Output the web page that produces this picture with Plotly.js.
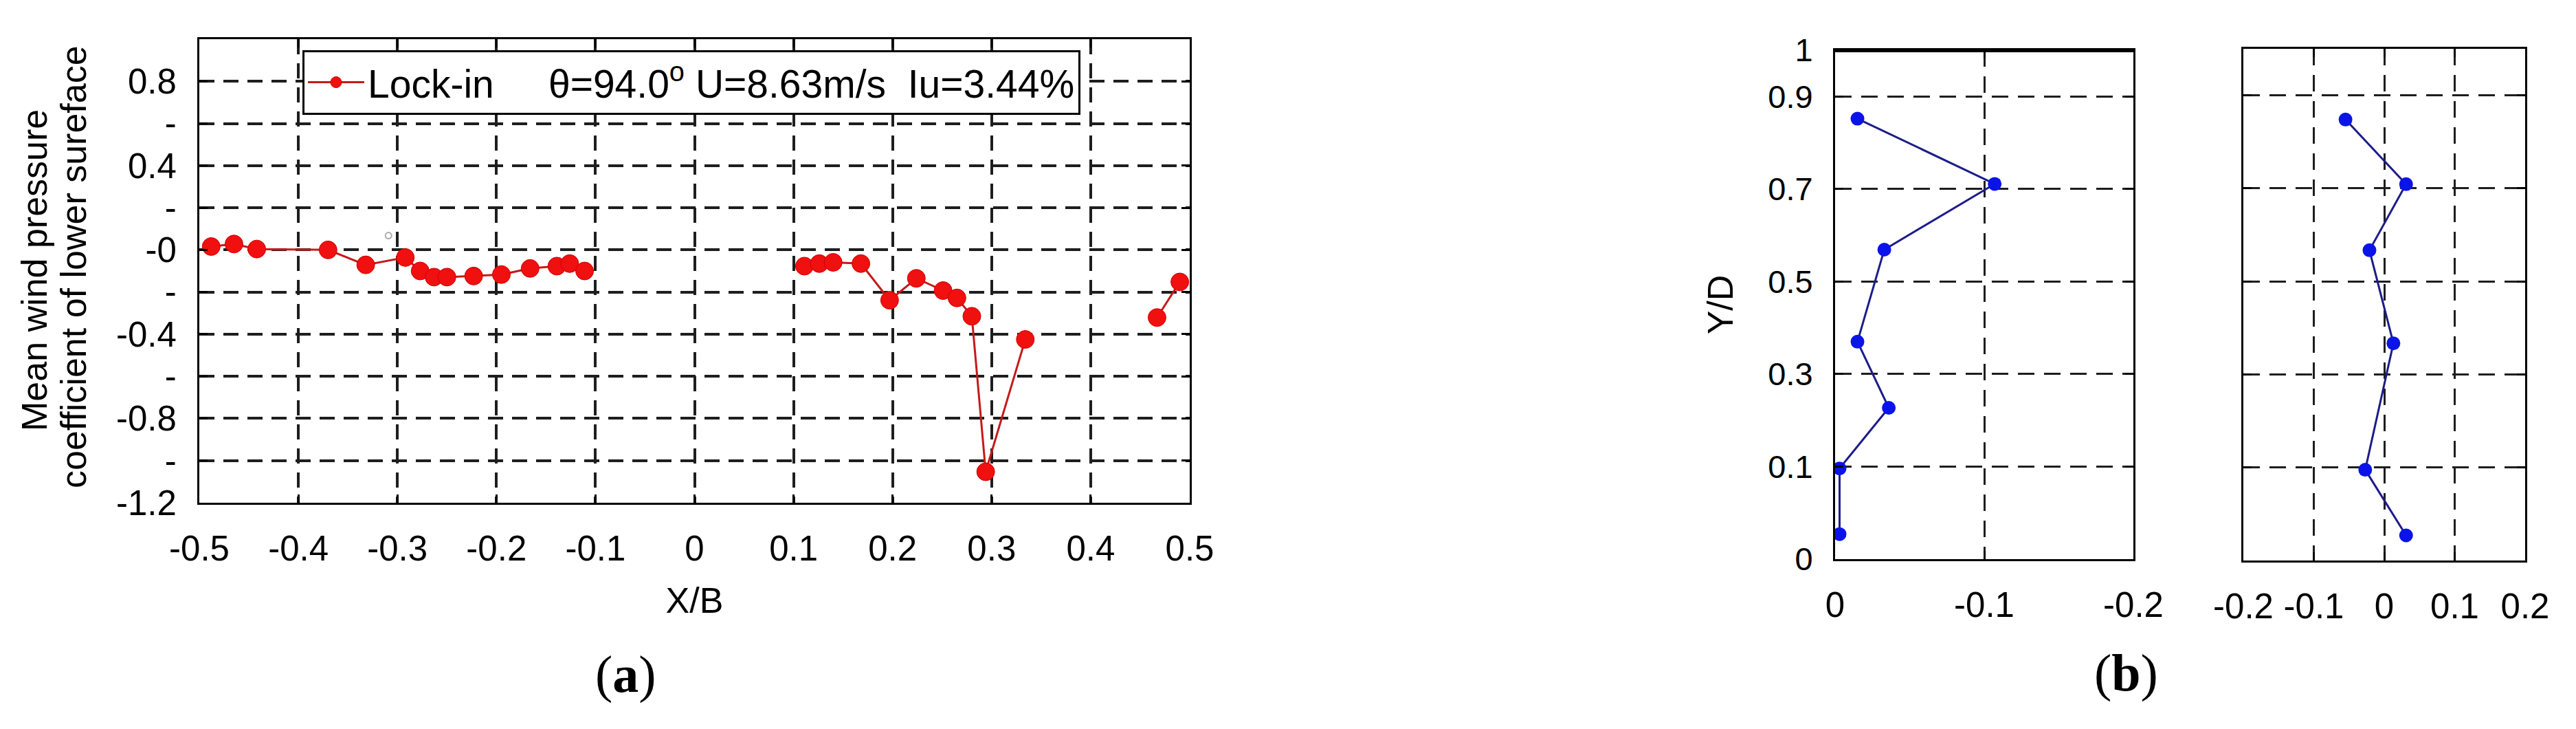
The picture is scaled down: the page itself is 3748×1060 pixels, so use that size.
<!DOCTYPE html>
<html>
<head>
<meta charset="utf-8">
<script src="https://cdn.plot.ly/plotly-3.0.1.min.js"></script>
<style>
  body { margin: 0; background: #fff; }
  #chart { width: 3748px; height: 1060px; }
</style>
</head>
<body>
<div id="chart"></div>
<script>
// (a) mean wind pressure coefficient of the lower surface, null = break in the line
const xB = [-0.488, -0.465, -0.442, -0.370, -0.332, -0.292, -0.277, -0.263, -0.250, -0.223, -0.195, -0.166, -0.139, -0.126, -0.111, null,
            0.111, 0.126, 0.140, 0.168, 0.197, 0.224, 0.251, 0.265, 0.280, 0.294, 0.334, null,
            0.467, 0.490];
const cpLower = [0.016, 0.028, 0.004, 0.000, -0.071, -0.036, -0.100, -0.129, -0.129, -0.124, -0.117, -0.088, -0.077, -0.065, -0.100, null,
                 -0.077, -0.065, -0.059, -0.065, -0.239, -0.135, -0.193, -0.228, -0.315, -1.053, -0.425, null,
                 -0.321, -0.152];
// stray grey mark in the original figure
const strayX = [-0.309];
const strayY = [0.068];

// (b) profiles along Y/D
const yDLeft = [0.852, 0.711, 0.569, 0.370, 0.227, 0.096, -0.046];
const cpLeft = [-0.015, -0.107, -0.033, -0.015, -0.036, -0.003, -0.003];
const yDRight = [0.848, 0.709, 0.567, 0.367, 0.095, -0.046];
const cpRight = [-0.055, 0.031, -0.021, 0.013, -0.027, 0.031];

// tick labels
const aXVals = [-0.5, -0.4, -0.3, -0.2, -0.1, 0, 0.1, 0.2, 0.3, 0.4, 0.5];
const aXText = ['-0.5', '-0.4', '-0.3', '-0.2', '-0.1', '0', '0.1', '0.2', '0.3', '0.4', '0.5'];
const aYVals = [-1.2, -1.0, -0.8, -0.6, -0.4, -0.2, 0, 0.2, 0.4, 0.6, 0.8];
const aYText = ['-1.2', '-', '-0.8', '-', '-0.4', '-', '-0', '-', '0.4', '-', '0.8'];
const bYVals = [-0.1, 0.1, 0.3, 0.5, 0.7, 0.9, 1.0];
const bYText = ['0', '0.1', '0.3', '0.5', '0.7', '0.9', '1'];
const bLeftXVals = [0, -0.1, -0.2];
const bLeftXText = ['0', '-0.1', '-0.2'];
const bRightXVals = [-0.2, -0.1, 0, 0.1, 0.2];
const bRightXText = ['-0.2', '-0.1', '0', '0.1', '0.2'];

const W = 3748, H = 1060;
const px = v => v / W;
const py = v => 1 - v / H;

const sans = 'Liberation Sans, Arial, sans-serif';
const nb = '\u00a0';

const traces = [
  {
    x: xB, y: cpLower, type: 'scatter', mode: 'lines+markers',
    name: 'Lock-in' + nb.repeat(5) + 'θ=94.0<sup>o</sup> U=8.63m/s' + nb + nb + 'Iu=3.44%',
    line: {color: '#c41a1a', width: 3},
    marker: {color: '#f01010', size: 26, line: {color: '#d00000', width: 1}},
    connectgaps: false, xaxis: 'x', yaxis: 'y'
  },
  {
    x: strayX, y: strayY, type: 'scatter', mode: 'markers', showlegend: false,
    marker: {symbol: 'circle-open', size: 9, color: '#aaaaaa', line: {width: 2}},
    xaxis: 'x', yaxis: 'y'
  },
  {
    x: cpLeft, y: yDLeft, type: 'scatter', mode: 'lines+markers', showlegend: false,
    line: {color: '#1c1c8a', width: 3},
    marker: {color: '#0a14e8', size: 20},
    xaxis: 'x2', yaxis: 'y2'
  },
  {
    x: cpRight, y: yDRight, type: 'scatter', mode: 'lines+markers', showlegend: false,
    line: {color: '#1c1c8a', width: 3},
    marker: {color: '#0a14e8', size: 20},
    xaxis: 'x3', yaxis: 'y3'
  }
];

function axis(extra) {
  return Object.assign({
    showline: true, linecolor: '#000', linewidth: 3, mirror: 'ticks',
    ticks: 'inside', ticklen: 12, tickwidth: 3, tickcolor: '#000',
    showgrid: true, gridcolor: '#1e1e1e', gridwidth: 4, griddash: '22px,13px',
    zeroline: false, tickmode: 'array',
    tickfont: {family: sans, size: 51, color: '#000'},
    ticklabelstandoff: 20
  }, extra);
}

const layout = {
  width: W, height: H,
  margin: {l: 0, r: 0, t: 0, b: 0},
  paper_bgcolor: '#fff', plot_bgcolor: '#fff',
  font: {family: sans, color: '#000'},
  showlegend: true,
  legend: {
    x: px(440), y: py(73), xanchor: 'left', yanchor: 'top',
    bgcolor: '#fff', bordercolor: '#000', borderwidth: 3,
    font: {family: sans, size: 57, color: '#000'},
    itemwidth: 82
  },
  xaxis: axis({
    domain: [px(290), px(1731)], range: [-0.5, 0.5],
    tickvals: aXVals, ticktext: aXText, anchor: 'y',
    title: {text: 'X/B', font: {family: sans, size: 52, color: '#000'}, standoff: 30}
  }),
  yaxis: axis({
    domain: [py(731), py(57)], range: [-1.2, 1.0],
    tickvals: aYVals, ticktext: aYText, anchor: 'x'
  }),
  xaxis2: axis({
    domain: [px(2670), px(3104)], range: [0, -0.2],
    tickvals: bLeftXVals, ticktext: bLeftXText, anchor: 'y2',
    gridwidth: 3, griddash: '24px,14px'
  }),
  yaxis2: axis({
    domain: [py(813), py(73)], range: [-0.1, 1.0],
    tickvals: bYVals, ticktext: bYText, anchor: 'x2',
    gridwidth: 3, griddash: '24px,14px', tickfont: {family: sans, size: 47, color: '#000'},
    title: {text: 'Y/D', font: {family: sans, size: 52, color: '#000'}, standoff: 35}
  }),
  xaxis3: axis({
    domain: [px(3264), px(3674)], range: [-0.2, 0.2],
    tickvals: bRightXVals, ticktext: bRightXText, anchor: 'y3',
    gridwidth: 3, griddash: '24px,14px'
  }),
  yaxis3: axis({
    domain: [py(815), py(71)], range: [-0.1, 1.0],
    tickvals: bYVals, showticklabels: false, anchor: 'x3',
    gridwidth: 3, griddash: '24px,14px'
  }),
  shapes: [
    // heavier top border on the left profile panel
    {type: 'line', xref: 'x2 domain', yref: 'y2 domain', x0: 0, x1: 1, y0: 1, y1: 1,
     line: {color: '#000', width: 6}}
  ],
  annotations: [
    {text: 'Mean wind pressure', x: px(50), y: py(393), xref: 'paper', yref: 'paper',
     textangle: -90, showarrow: false, xanchor: 'center', yanchor: 'middle',
     font: {family: sans, size: 52, color: '#000'}},
    {text: 'coefficient of lower sureface', x: px(107), y: py(388), xref: 'paper', yref: 'paper',
     textangle: -90, showarrow: false, xanchor: 'center', yanchor: 'middle',
     font: {family: sans, size: 52, color: '#000'}},
    {text: '(<b>a</b>)', x: px(910), y: py(980), xref: 'paper', yref: 'paper',
     showarrow: false, xanchor: 'center', yanchor: 'middle',
     font: {family: 'Liberation Serif, DejaVu Serif, serif', size: 76, color: '#000'}},
    {text: '(<b>b</b>)', x: px(3093), y: py(978), xref: 'paper', yref: 'paper',
     showarrow: false, xanchor: 'center', yanchor: 'middle',
     font: {family: 'Liberation Serif, DejaVu Serif, serif', size: 76, color: '#000'}}
  ]
};

Plotly.newPlot('chart', traces, layout, {staticPlot: true});
</script>
</body>
</html>
